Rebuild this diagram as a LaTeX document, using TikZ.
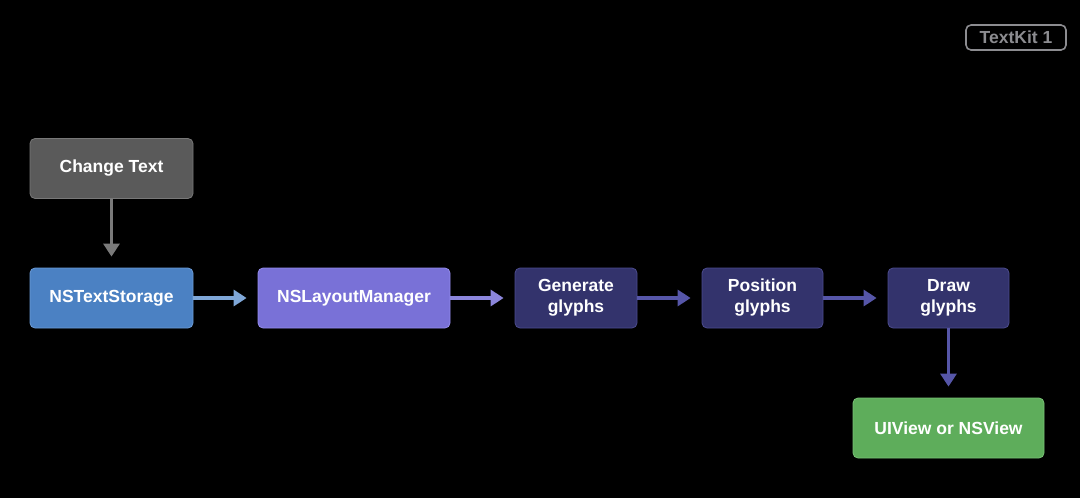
\documentclass[tikz,border=0pt]{standalone}
\usepackage{fontspec}
\setmainfont{Liberation Sans}
\usetikzlibrary{arrows.meta}
\definecolor{grayfill}{HTML}{5A5A5A}
\definecolor{grayline}{HTML}{787878}
\definecolor{grayarrow}{HTML}{7A7A7A}
\definecolor{storefill}{HTML}{4B81C3}
\definecolor{storeline}{HTML}{6B9BD6}
\definecolor{storearrow}{HTML}{7FA7D8}
\definecolor{layoutfill}{HTML}{7971D7}
\definecolor{layoutline}{HTML}{958DEE}
\definecolor{layoutarrow}{HTML}{8C86DC}
\definecolor{glyphfill}{HTML}{33336C}
\definecolor{glyphline}{HTML}{4C4C8E}
\definecolor{glypharrow}{HTML}{5656A8}
\definecolor{viewfill}{HTML}{5EAD5B}
\definecolor{viewline}{HTML}{79C276}
\definecolor{badgegray}{HTML}{8C8C90}
\begin{document}
\begin{tikzpicture}[x=1pt, y=-1pt, font=\fontsize{17.5}{21}\selectfont\bfseries, line join=round,
	box/.style={rounded corners=5pt, line width=0.8pt, text=white, align=center, minimum height=60pt, inner sep=0pt},
	flow/.style={line width=3.4pt, -{Triangle[length=13pt, width=16pt]}, shorten >=11pt}]
	\fill[black] (0,0) rectangle (1080,498);
	\useasboundingbox (0,0) rectangle (1080,498);
	% badge
	\node[draw=badgegray, text=badgegray, rounded corners=5pt, line width=1.6pt, minimum width=100pt, minimum height=25pt, inner sep=0pt] (kit) at (1016,37.5) {TextKit 1};
	% boxes
	\node[box, fill=grayfill, draw=grayline, minimum width=163pt] (change) at (111.5,168.5) {Change Text};
	\node[box, fill=storefill, draw=storeline, minimum width=163pt] (storage) at (111.5,298) {NSTextStorage};
	\node[box, fill=layoutfill, draw=layoutline, minimum width=192pt] (layout) at (354,298) {NSLayoutManager};
	\node[box, fill=glyphfill, draw=glyphline, minimum width=122pt] (generate) at (576,298) {Generate\\glyphs};
	\node[box, fill=glyphfill, draw=glyphline, minimum width=121pt] (position) at (762.5,298) {Position\\glyphs};
	\node[box, fill=glyphfill, draw=glyphline, minimum width=121pt] (drawg) at (948.5,298) {Draw\\glyphs};
	\node[box, fill=viewfill, draw=viewline, minimum width=191pt] (view) at (948.5,428) {UIView or NSView};
	% arrows
	\draw[flow, grayarrow] (change) -- (storage);
	\draw[flow, storearrow] (storage) -- (layout);
	\draw[flow, layoutarrow] (layout) -- (generate);
	\draw[flow, glypharrow] (generate) -- (position);
	\draw[flow, glypharrow] (position) -- (drawg);
	\draw[flow, glypharrow] (drawg) -- (view);
\end{tikzpicture}
\end{document}
